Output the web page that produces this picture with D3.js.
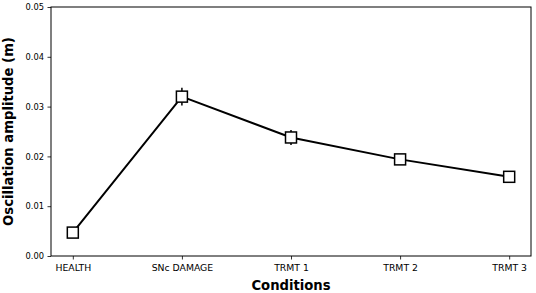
<!DOCTYPE html>
<html><head><meta charset="utf-8">
<script src="https://cdn.jsdelivr.net/npm/d3@7"></script>
<style>body{margin:0;background:#fff}svg{display:block}text{font-family:"DejaVu Sans",sans-serif}</style>
</head><body><svg id="c" width="536" height="293"></svg>
<script>
const categories = ["HEALTH","SNc DAMAGE","TRMT 1","TRMT 2","TRMT 3"];
const values = [0.0047, 0.0320, 0.0238, 0.0194, 0.0159];
const errors = [0.0003, 0.0018, 0.0015, 0.0004, 0.0003];
const yTicks = [0.00,0.01,0.02,0.03,0.04,0.05];

const svg = d3.select("#c");
const L=51,R=531,T=7,B=256;
const x = d3.scaleLinear().domain([-0.2, categories.length-1+0.2]).range([L,R]);
const y = d3.scaleLinear().domain([0,0.05]).range([B,T]);

const xa = svg.append("g").attr("transform",`translate(0,${B})`)
  .call(d3.axisBottom(x).tickValues(d3.range(categories.length)).tickFormat(i=>categories[i]).tickSize(3.5).tickPadding(5));
const ya = svg.append("g").attr("transform",`translate(${L},0)`)
  .call(d3.axisLeft(y).tickValues(yTicks).tickFormat(d3.format(".2f")).tickSize(3.5).tickPadding(3.5));
[xa,ya].forEach(a=>{a.select(".domain").remove();a.selectAll("line").attr("stroke","#000").attr("stroke-width",0.8);a.selectAll("text").attr("fill","#000");});
ya.selectAll("text").attr("font-size",8.3);
xa.selectAll("text").attr("font-size",9.3);

svg.append("rect").attr("x",L).attr("y",T).attr("width",R-L).attr("height",B-T)
  .attr("fill","none").attr("stroke","#000").attr("stroke-width",1);

const idx = d3.range(categories.length);
svg.append("g").selectAll("line").data(idx).join("line")
  .attr("x1",i=>x(i)).attr("x2",i=>x(i))
  .attr("y1",i=>y(values[i]-errors[i])).attr("y2",i=>y(values[i]+errors[i]))
  .attr("stroke","#000").attr("stroke-width",1.5);

svg.append("path").datum(idx)
  .attr("d",d3.line().x(i=>x(i)).y(i=>y(values[i])))
  .attr("fill","none").attr("stroke","#000").attr("stroke-width",2);

const s=11;
svg.append("g").selectAll("rect").data(idx).join("rect")
  .attr("x",i=>x(i)-s/2).attr("y",i=>y(values[i])-s/2).attr("width",s).attr("height",s)
  .attr("fill","#fff").attr("stroke","#000").attr("stroke-width",1.5);

svg.append("text").attr("x",(L+R)/2).attr("y",290).attr("text-anchor","middle")
  .attr("font-size",13.2).attr("font-weight","bold").text("Conditions");
svg.append("text").attr("transform",`translate(13,${(T+B)/2}) rotate(-90)`).attr("text-anchor","middle")
  .attr("font-size",13.2).attr("font-weight","bold").text("Oscillation amplitude (m)");
</script></body></html>
